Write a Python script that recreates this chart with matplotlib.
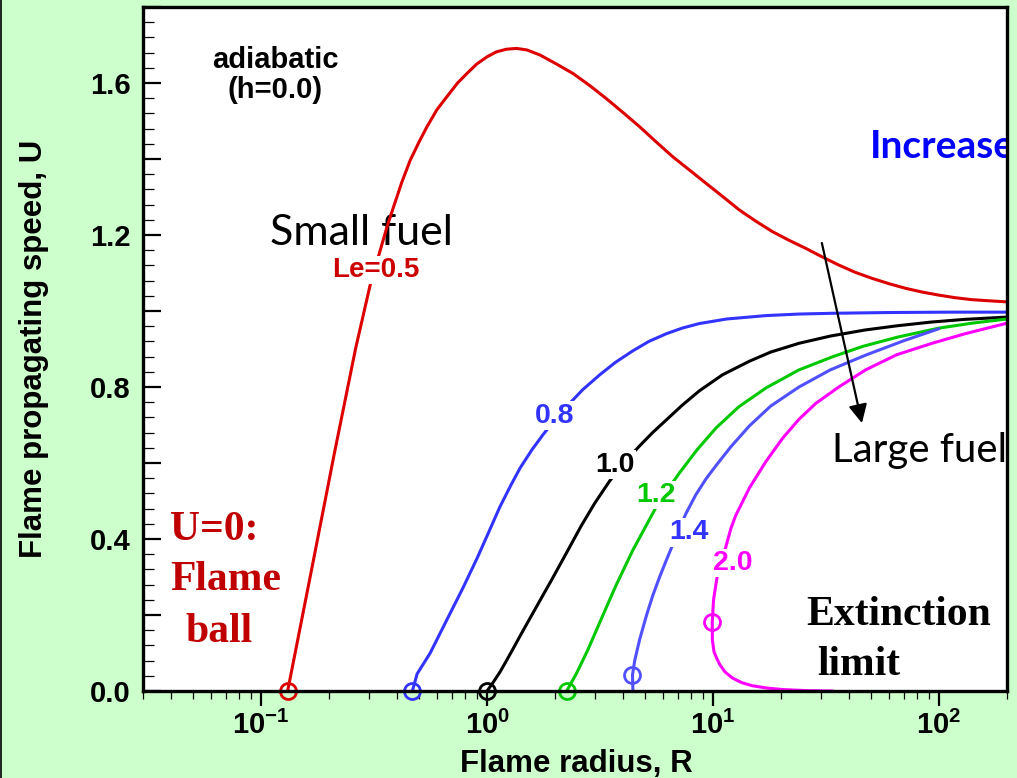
import matplotlib
matplotlib.use('Agg')
import matplotlib.pyplot as plt
from matplotlib.ticker import FixedLocator, FixedFormatter, FuncFormatter, NullFormatter
from matplotlib.lines import Line2D

plt.rcParams['font.family'] = 'Liberation Sans'
plt.rcParams['mathtext.fontset'] = 'custom'
plt.rcParams['mathtext.rm'] = 'Liberation Sans'
plt.rcParams['mathtext.bf'] = 'Liberation Sans:bold'

# Flame speed U vs flame radius R for several Lewis numbers (adiabatic, h=0)
le05_R = [0.131, 0.166, 0.211, 0.262, 0.305, 0.337, 0.36, 0.386, 0.42, 0.457, 0.5, 0.542, 0.6, 0.664,
          0.74, 0.814, 0.9, 1.0, 1.1, 1.22, 1.35, 1.50, 1.71, 2.0, 2.40, 2.85, 3.37, 4.0, 4.73, 5.6,
          6.63, 7.9, 9.31, 11.1, 13.06, 15.5, 18.3, 21.7, 25.7, 30.5, 36.0, 42.5, 50.5, 60, 70.8, 84,
          99.4, 118, 139, 165, 200]
le05_U = [0.0, 0.31, 0.626, 0.902, 1.073, 1.161, 1.22, 1.275, 1.34, 1.397, 1.445, 1.485, 1.53, 1.564,
          1.6, 1.625, 1.65, 1.669, 1.682, 1.689, 1.691, 1.687, 1.674, 1.652, 1.625, 1.593, 1.559, 1.522,
          1.485, 1.445, 1.406, 1.37, 1.336, 1.30, 1.266, 1.236, 1.209, 1.186, 1.165, 1.142, 1.121, 1.102,
          1.086, 1.072, 1.060, 1.05, 1.042, 1.035, 1.030, 1.027, 1.024]

le08_R = [0.467, 0.49, 0.56, 0.667, 0.78, 0.904, 1.02, 1.14, 1.27, 1.4, 1.58, 1.77, 2.0, 2.32, 2.65,
          3.15, 3.7, 4.41, 5.2, 6.2, 7.3, 8.7, 11.5, 17.2, 24, 33.6, 60, 110, 200]
le08_U = [0.0, 0.045, 0.1, 0.19, 0.27, 0.35, 0.42, 0.485, 0.54, 0.587, 0.635, 0.675, 0.714, 0.757, 0.793,
          0.832, 0.865, 0.895, 0.92, 0.94, 0.955, 0.967, 0.979, 0.988, 0.992, 0.994, 0.996, 0.997, 0.997]

le10_R = [1.0, 1.07, 1.14, 1.2, 1.3, 1.4, 1.5, 1.63, 1.77, 1.92, 2.1, 2.35, 2.6, 3.0, 3.49, 4.1, 4.73,
          5.4, 6.2, 7.3, 8.7, 11, 14.5, 18, 24, 33, 47, 65, 92.7, 130, 200]
le10_U = [0.0, 0.025, 0.05, 0.073, 0.11, 0.145, 0.177, 0.215, 0.253, 0.29, 0.332, 0.385, 0.433, 0.495,
          0.553, 0.605, 0.645, 0.68, 0.713, 0.752, 0.79, 0.832, 0.868, 0.892, 0.915, 0.934, 0.95, 0.961,
          0.971, 0.978, 0.984]

le12_R = [2.25, 2.49, 2.8, 3.15, 3.7, 4.41, 5.0, 5.6, 6.3, 7.1, 8.5, 10.3, 13, 17.2, 24, 33.6, 46,
          66.3, 100, 140, 200]
le12_U = [0.0, 0.047, 0.11, 0.18, 0.275, 0.37, 0.43, 0.484, 0.53, 0.574, 0.635, 0.692, 0.748, 0.798,
          0.845, 0.879, 0.907, 0.932, 0.955, 0.968, 0.979]

le14_R = [4.42, 4.40, 4.5, 4.73, 5.08, 5.4, 5.8, 6.2, 6.6, 7.1, 7.6, 8.4, 9.3, 10.3, 12, 14.5, 18, 24,
          33, 47.4, 70, 99.5]
le14_U = [0.0, 0.042, 0.08, 0.135, 0.2, 0.25, 0.3, 0.343, 0.382, 0.428, 0.468, 0.517, 0.558, 0.593, 0.643,
          0.698, 0.75, 0.8, 0.845, 0.884, 0.922, 0.953]

le20_R = [33.6, 26, 20.2, 17.2, 14.9, 13.4, 12.2, 11.3, 10.7, 10.4, 10.1, 9.93, 9.92, 10.05, 10.4, 10.9,
          11.4, 12.0, 12.6, 14.5, 17.1, 20.3, 24, 28.5, 36, 47.3, 65, 93.1, 130, 200]
le20_U = [0.0, 0.001, 0.004, 0.008, 0.014, 0.022, 0.034, 0.05, 0.07, 0.085, 0.103, 0.134, 0.182, 0.24,
          0.297, 0.337, 0.38, 0.428, 0.462, 0.535, 0.603, 0.665, 0.715, 0.757, 0.80, 0.845, 0.885, 0.915,
          0.94, 0.968]

# extinction / flame-ball points marked with open circles
marker_R = [0.131, 0.467, 1.0, 2.25, 4.40, 9.92]
marker_U = [0.0, 0.0, 0.0, 0.0, 0.042, 0.182]

le_labels = ['0.8', '1.0', '1.2', '1.4', '2.0']
label_R = [2.0, 3.67, 5.6, 7.86, 12.2]
label_U = [0.724, 0.595, 0.516, 0.418, 0.337]

x_ticks = [0.1, 1, 10, 100]
x_ticklabels = [r'$\mathbf{10^{-1}}$', r'$\mathbf{10^{0}}$', r'$\mathbf{10^{1}}$', r'$\mathbf{10^{2}}$']

curves = [
    (le05_R, le05_U, '#dd0000'),
    (le08_R, le08_U, '#3333ff'),
    (le10_R, le10_U, '#000000'),
    (le12_R, le12_U, '#00c800'),
    (le14_R, le14_U, '#5050ff'),
    (le20_R, le20_U, '#ff00ff'),
]
label_colors = ['#3333ff', '#000000', '#00c800', '#3333ff', '#ff00ff']

fig = plt.figure(figsize=(10.17, 7.78), dpi=100, facecolor='#ccffcc')
ax = fig.add_axes([0.1406, 0.1118, 0.8496, 0.8792])
ax.set_facecolor('white')

for (R, U, c), (mr, mu) in zip(curves, zip(marker_R, marker_U)):
    ax.plot(R, U, color=c, lw=2.2, zorder=3, solid_joinstyle='round')
    ax.plot([mr], [mu], 'o', ms=11.5, mfc='none', mec=c, mew=2.0, zorder=4, clip_on=False)

for txt, r, u, c in zip(le_labels, label_R, label_U, label_colors):
    ax.text(r, u, txt, color=c, fontsize=20.5, fontweight='bold', ha='center', va='center', zorder=5,
            bbox=dict(boxstyle='square,pad=0.05', fc='white', ec='none'))

ax.text(0.321, 1.108, 'Le=0.5', color='#cc0000', fontsize=20, fontweight='bold', ha='center', va='center',
        zorder=5, bbox=dict(boxstyle='square,pad=0.05', fc='white', ec='none'))

ax.text(0.153, 0.901, 'adiabatic\n(h=0.0)', transform=ax.transAxes, fontsize=21, fontweight='bold',
        ha='center', va='center', linespacing=1.1)

ax.text(0.147, 0.652, 'Small fuel', transform=ax.transAxes, fontsize=31, family='Lato',
        ha='left', va='baseline', zorder=2)
ax.text(0.797, 0.335, 'Large fuel', transform=ax.transAxes, fontsize=29, family='Lato',
        ha='left', va='baseline', clip_on=True)
ax.text(0.8414, 0.7792, 'Increase', transform=ax.transAxes, fontsize=28, family='Lato', fontweight='bold',
        color='#0000ff', ha='left', va='baseline', clip_on=True)

serif = 'Liberation Serif'
ax.text(0.03125, 0.2208, 'U=0:', transform=ax.transAxes, fontsize=30, family=serif, fontweight='bold',
        color='#c00000', ha='left', va='baseline')
ax.text(0.03125, 0.1477, 'Flame', transform=ax.transAxes, fontsize=30, family=serif, fontweight='bold',
        color='#c00000', ha='left', va='baseline')
ax.text(0.0486, 0.0716, 'ball', transform=ax.transAxes, fontsize=30, family=serif, fontweight='bold',
        color='#c00000', ha='left', va='baseline')
ax.text(0.7674, 0.0965, 'Extinction', transform=ax.transAxes, fontsize=30, family=serif, fontweight='bold',
        ha='left', va='baseline')
ax.text(0.780, 0.0234, 'limit', transform=ax.transAxes, fontsize=30, family=serif, fontweight='bold',
        ha='left', va='baseline')

# direction of increasing Lewis number
ax.annotate('', xy=(45.6, 0.705), xytext=(30.3, 1.179),
            arrowprops=dict(arrowstyle='-|>', lw=1.6, color='black', mutation_scale=28,
                            shrinkA=0, shrinkB=0), zorder=6)

ax.set_xscale('log')
ax.set_xlim(0.03, 200)
ax.set_ylim(0, 1.8)

ax.xaxis.set_major_locator(FixedLocator(x_ticks))
ax.xaxis.set_major_formatter(FixedFormatter(x_ticklabels))
ax.xaxis.set_minor_locator(FixedLocator([m * 10.0 ** e for e in range(-2, 3) for m in range(2, 10)]))
ax.xaxis.set_minor_formatter(NullFormatter())

ax.yaxis.set_major_locator(FixedLocator([i * 0.2 for i in range(10)]))
ax.yaxis.set_minor_locator(FixedLocator([i * 0.04 for i in range(46)]))
ax.yaxis.set_major_formatter(FuncFormatter(lambda v, p: f'{v:.1f}' if round(v / 0.2) % 2 == 0 else ''))

ax.tick_params(axis='y', which='major', direction='in', length=13, width=1.6, pad=9, labelsize=21)
ax.tick_params(axis='y', which='minor', direction='in', length=8, width=0.9)
ax.tick_params(axis='x', which='major', direction='out', length=11, width=1.6, pad=3, labelsize=21)
ax.tick_params(axis='x', which='minor', direction='out', length=6, width=0.9)
ax.tick_params(top=False, right=False, which='both')
for lab in ax.get_yticklabels():
    lab.set_fontweight('bold')

for s in ax.spines.values():
    s.set_linewidth(2.4)
    s.set_zorder(7)

fig.text(576 / 1017, 0.008, 'Flame radius, R', fontsize=22.5, fontweight='bold', ha='center', va='baseline')
fig.text(34 / 1017, 1 - 349 / 778, 'Flame propagating speed, U', fontsize=22.5, fontweight='bold',
         rotation=90, ha='center', va='center')

fig.add_artist(Line2D([0.0008, 0.0008], [0, 1], color='black', lw=1.2))

fig.savefig('out.png', dpi=100, facecolor=fig.get_facecolor())
